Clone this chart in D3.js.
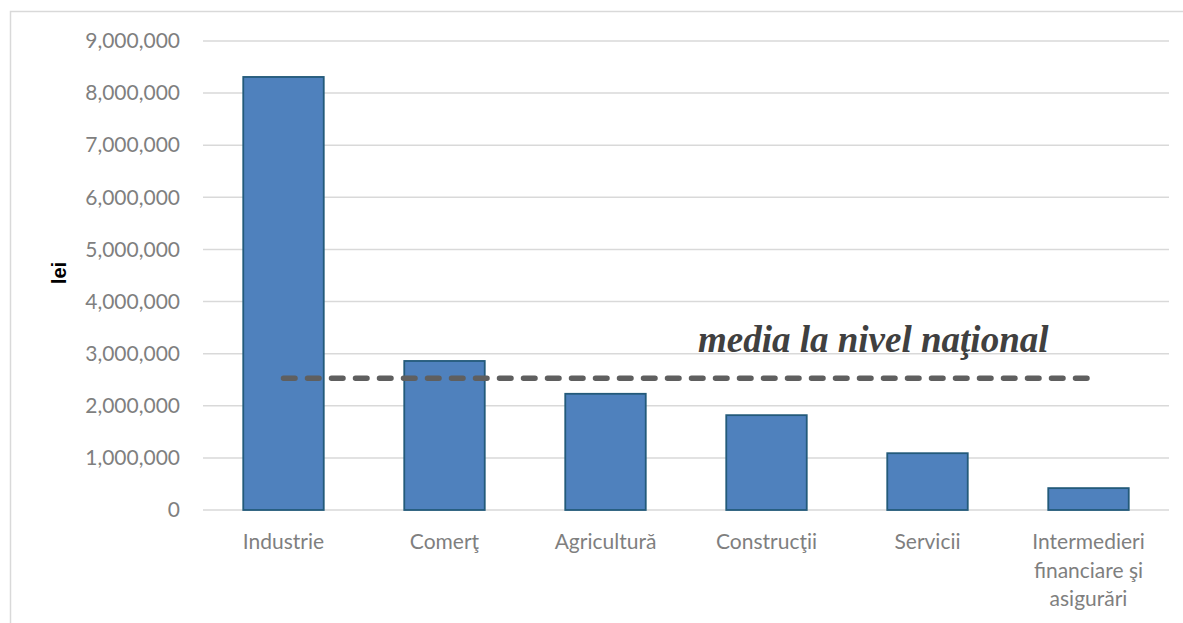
<!DOCTYPE html>
<html>
<head>
<meta charset="utf-8">
<script src="https://cdn.jsdelivr.net/npm/d3@7"></script>
<style>
  html, body { margin: 0; padding: 0; background: #fff; }
  svg { display: block; }
</style>
</head>
<body>
<svg id="chart" width="1183" height="623"></svg>
<script>
// Sectors and their values (lei)
const categories = ["Industrie", "Comerţ", "Agricultură", "Construcţii", "Servicii", "Intermedieri financiare şi asigurări"];
const categoryLines = [["Industrie"], ["Comerţ"], ["Agricultură"], ["Construcţii"], ["Servicii"], ["Intermedieri", "financiare şi", "asigurări"]];
const values = [8310000, 2860000, 2230000, 1820000, 1090000, 420000];
const nationalAverage = 2530000;
const averageLabel = "media la nivel naţional";
const yTicks = [0, 1000000, 2000000, 3000000, 4000000, 5000000, 6000000, 7000000, 8000000, 9000000];
const yTitle = "lei";

const svg = d3.select("#chart");
const W = 1183, H = 623;
const plot = { left: 203, right: 1169, top: 41, bottom: 510 };

// outer chart border
svg.append("rect")
  .attr("x", 10.5).attr("y", 11.5)
  .attr("width", W + 10).attr("height", H + 10)
  .attr("fill", "none").attr("stroke", "#d9d9d9").attr("stroke-width", 1.5);

const x = d3.scaleBand().domain(categories).range([plot.left, plot.right]).paddingInner(0.5).paddingOuter(0.25);
const y = d3.scaleLinear().domain([0, 9000000]).range([plot.bottom, plot.top]);

const fmt = d3.format(",");

// gridlines
svg.append("g")
  .selectAll("line").data(yTicks).join("line")
  .attr("x1", plot.left).attr("x2", plot.right)
  .attr("y1", d => y(d)).attr("y2", d => y(d))
  .attr("stroke", "#d9d9d9").attr("stroke-width", 1.5);

// y axis labels
const yAxis = d3.axisLeft(y).tickValues(yTicks).tickFormat(fmt).tickSize(0).tickPadding(23);
const gy = svg.append("g").attr("transform", `translate(${plot.left},0)`).call(yAxis);
gy.select(".domain").remove();
gy.selectAll("text")
  .attr("fill", "#7f7f7f")
  .style("font-family", "Lato, 'Open Sans', sans-serif")
  .style("font-size", "21px");

// y axis title
svg.append("text")
  .attr("transform", `translate(66,273) rotate(-90)`)
  .attr("text-anchor", "middle")
  .attr("fill", "#000")
  .style("font-family", "'Liberation Sans', Arial, sans-serif")
  .style("font-weight", "bold")
  .style("font-size", "20px")
  .text(yTitle);

// bars
svg.append("g")
  .selectAll("rect").data(values).join("rect")
  .attr("x", (d, i) => x(categories[i]))
  .attr("y", d => y(d))
  .attr("width", x.bandwidth())
  .attr("height", d => y(0) - y(d))
  .attr("fill", "#4f81bd")
  .attr("stroke", "#235a7a")
  .attr("stroke-width", 1.8);

// category labels
const xl = svg.append("g")
  .selectAll("text").data(categoryLines).join("text")
  .attr("text-anchor", "middle")
  .attr("fill", "#7f7f7f")
  .style("font-family", "Lato, 'Open Sans', sans-serif")
  .style("font-size", "21px");
xl.each(function(lines, i) {
  const cx = x(categories[i]) + x.bandwidth() / 2;
  d3.select(this).selectAll("tspan").data(lines).join("tspan")
    .attr("x", cx)
    .attr("y", (d, j) => 549 + j * 28.5)
    .text(d => d);
});

// national average line
svg.append("line")
  .attr("x1", x(categories[0]) + x.bandwidth() / 2)
  .attr("x2", x(categories[5]) + x.bandwidth() / 2)
  .attr("y1", y(nationalAverage)).attr("y2", y(nationalAverage))
  .attr("stroke", "#5f5f5f")
  .attr("stroke-width", 5.5)
  .attr("stroke-linecap", "round")
  .attr("stroke-dasharray", "11.5,12.5");

svg.append("text")
  .attr("x", 698).attr("y", 352)
  .attr("fill", "#404040")
  .style("font-family", "'Liberation Serif', 'Times New Roman', serif")
  .style("font-weight", "bold")
  .style("font-style", "italic")
  .style("font-size", "37px")
  .text(averageLabel);
</script>
</body>
</html>
